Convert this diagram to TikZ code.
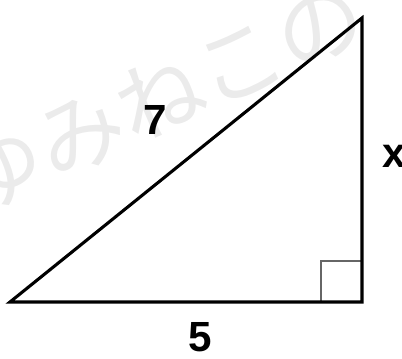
\documentclass[tikz,border=0pt]{standalone}
\usepackage{fontspec}
\setmainfont{Liberation Sans}
\newfontfamily\jpfont{Noto Sans CJK JP}
\usepackage{tikz}
\usetikzlibrary{positioning,calc}

\begin{document}
\begin{tikzpicture}[
    x=0.025cm,y=-0.025cm,
    side/.style   = {black, line width=2.2pt, line join=miter},
    rangle/.style = {black!60, line width=0.9pt},
    len/.style    = {font=\fontsize{30}{36}\selectfont\bfseries, inner sep=0pt},
    wm/.style     = {font=\jpfont\fontsize{62}{70}\selectfont, text=black!8,
                     rotate=24, inner sep=0pt},
  ]
  \useasboundingbox (0,0) rectangle (402,359);

  % watermark
  \node[wm] (wmark) at (160,98) {ゆみねこの};

  % vertices
  \coordinate (pa) at (10,302);
  \coordinate (pb) at (362,302);
  \coordinate (pc) at (362,18);

  % right angle
  \draw[rangle] (321,302) -- (321,261) -- (362,261);

  \draw[side] (pa) -- (pb) -- (pc) -- cycle;

  \node[len] (lhyp) at (155,120) {7};
  \node[len] (lvert) at (394,156) {x};
  \node[len] (lbase) at (200,337) {5};

\end{tikzpicture}
\end{document}
